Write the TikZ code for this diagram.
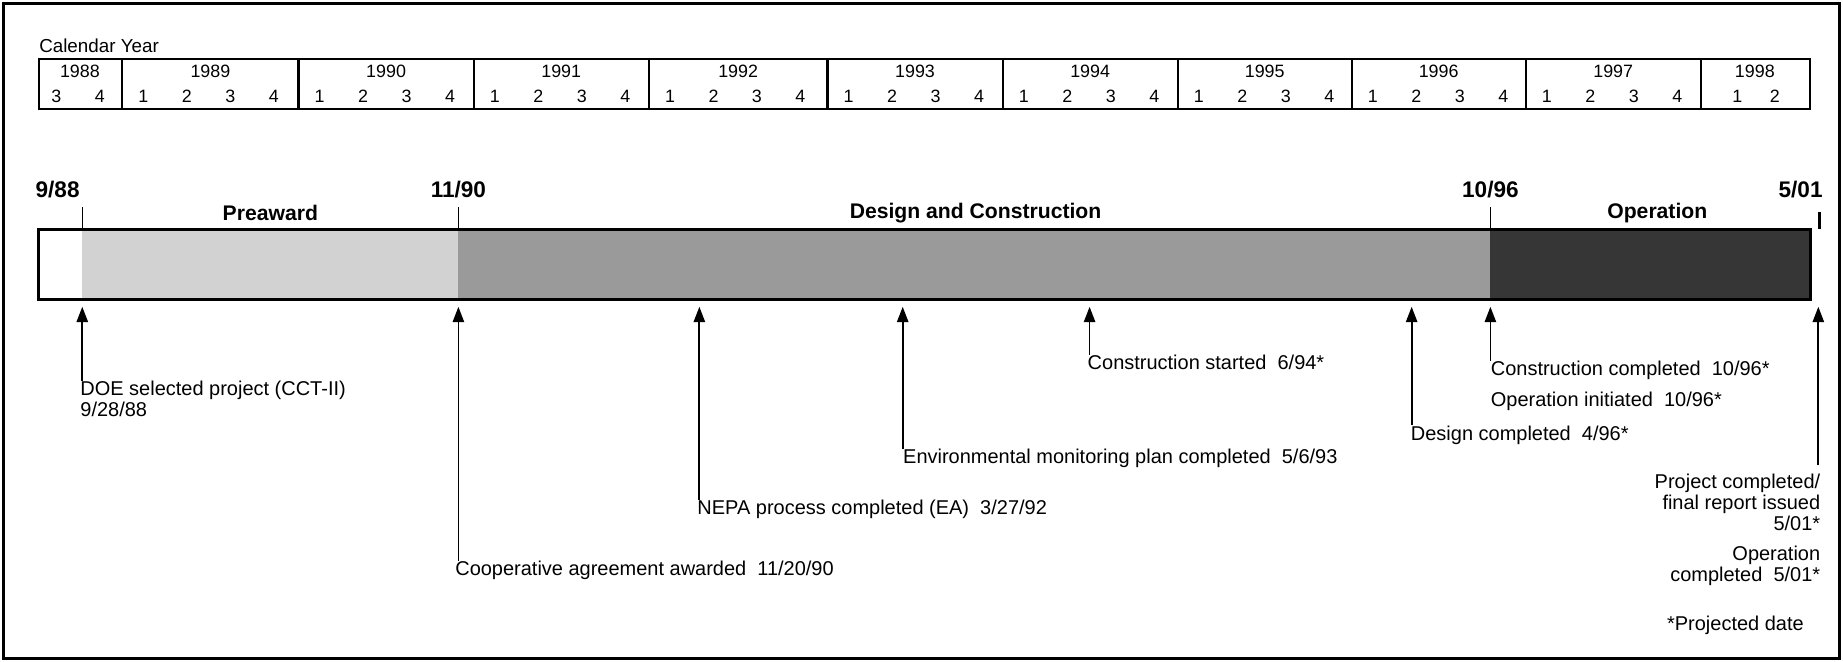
\documentclass[tikz,border=0pt]{standalone}
\usepackage{fontspec}
\setmainfont{Liberation Sans}
\usetikzlibrary{arrows.meta}
\definecolor{lightfill}{HTML}{D2D2D2}
\definecolor{midfill}{HTML}{9A9A9A}
\definecolor{darkfill}{HTML}{363636}
\begin{document}
\begin{tikzpicture}[x=0.5pt,y=-0.5pt,
  lab/.style={font=\fontsize{8.5}{9}\selectfont, inner sep=0pt},
  phase/.style={font=\fontsize{9}{10}\selectfont\bfseries, inner sep=0pt},
  datelab/.style={font=\fontsize{9.6}{11}\selectfont\bfseries, inner sep=0pt},
  yr/.style={font=\fontsize{7.6}{8}\selectfont, inner sep=0pt},
  arr/.style={-{Triangle[length=6.5pt,width=4.8pt]}, line width=0.75pt},
  tickline/.style={line width=0.6pt},
  tbl/.style={line width=0.9pt}]
\useasboundingbox (0,0) rectangle (1568,563);
\draw[line width=1.4pt] (3,3) rectangle (1565,560);
% calendar table
\node[yr, anchor=west, font=\fontsize{8}{9}\selectfont] (cal) at (33,39) {Calendar Year};
\draw[tbl] (33,50) rectangle (1540,93);
\foreach \s in {104,254,403,552,704,853,1002,1150,1298,1447}
  \draw[tbl] (\s,50) -- (\s,93);
\node[yr] (y1988) at (68,61) {1988};
\node[yr] (q1988a) at (48,82) {3};
\node[yr] (q1988b) at (85,82) {4};
\foreach \s/\e/\y in {104/254/1989,254/403/1990,403/552/1991,552/704/1992,704/853/1993,853/1002/1994,1002/1150/1995,1150/1298/1996,1298/1447/1997}{
  \node[yr] (y\y) at ({(\s+\e)/2},61) {\y};
  \foreach \q in {1,2,3,4}
    \node[yr] (q\y-\q) at ({\s+18+37*(\q-1)},82) {\q};
}
\node[yr] (y1998) at (1493,61) {1998};
\node[yr] (q1998a) at (1478,82) {1};
\node[yr] (q1998b) at (1510,82) {2};
% bar
\fill[lightfill] (70,195) rectangle (390,255);
\fill[midfill] (390,195) rectangle (1268,255);
\fill[darkfill] (1268,195) rectangle (1540,255);
\draw[line width=1.3pt] (33,195) rectangle (1540,255);
\draw[tickline] (70,176) -- (70,195);
\draw[tickline] (390,176) -- (390,195);
\draw[tickline] (1268,176) -- (1268,195);
\draw[line width=0.9pt] (1548,180) -- (1548,195);
\node[datelab] (d1) at (49,161) {9/88};
\node[datelab] (d2) at (390,161) {11/90};
\node[datelab] (d3) at (1268,161) {10/96};
\node[datelab, anchor=east] (d4) at (1551,161) {5/01};
\node[phase] (p1) at (230,181) {Preaward};
\node[phase] (p2) at (830,181) {Design and Construction};
\node[phase] (p3) at (1410,181) {Operation};
% event points just below the bar
\coordinate (e1) at (70,261);
\coordinate (e2) at (390,261);
\coordinate (e3) at (595,261);
\coordinate (e4) at (768,261);
\coordinate (e5) at (927,261);
\coordinate (e6) at (1201,261);
\coordinate (e7) at (1268,261);
\coordinate (e8) at (1547,261);
% labels
\node[lab, anchor=north west, align=left] (l1) at (68,324) {DOE selected project (CCT-II)\\9/28/88};
\node[lab, anchor=north west] (l2) at (387,477) {Cooperative agreement awarded\ \ 11/20/90};
\node[lab, anchor=north west] (l3) at (593,425) {NEPA process completed (EA)\ \ 3/27/92};
\node[lab, anchor=north west] (l4) at (768,382) {Environmental monitoring plan completed\ \ 5/6/93};
\node[lab, anchor=north west] (l5) at (925,302) {Construction started\ \ 6/94*};
\node[lab, anchor=north west] (l6) at (1200,362) {Design completed\ \ 4/96*};
\node[lab, anchor=north west, align=left] (l7) at (1268,307) {Construction completed\ \ 10/96*\\[4pt]Operation initiated\ \ 10/96*};
\node[lab, anchor=north east, align=right] (l8) at (1549,403) {Project completed/\\final report issued\\5/01*};
\node[lab, anchor=north east, align=right] (l9) at (1549,464) {Operation\\completed\ \ 5/01*};
\node[lab, anchor=east] (l10) at (1535,532) {*Projected date};
% arrows
\draw[arr] (l1.north west -| e1) -- (e1);
\draw[arr] (l2.north west -| e2) -- (e2);
\draw[arr] (l3.north west -| e3) -- (e3);
\draw[arr] (l4.north west -| e4) -- (e4);
\draw[arr] (l5.north west -| e5) -- (e5);
\draw[arr] (l6.north west -| e6) -- (e6);
\draw[arr] (l7.north west -| e7) -- (e7);
\draw[arr] ([yshift=3.5pt]l8.north east -| e8) -- (e8);
\end{tikzpicture}
\end{document}
